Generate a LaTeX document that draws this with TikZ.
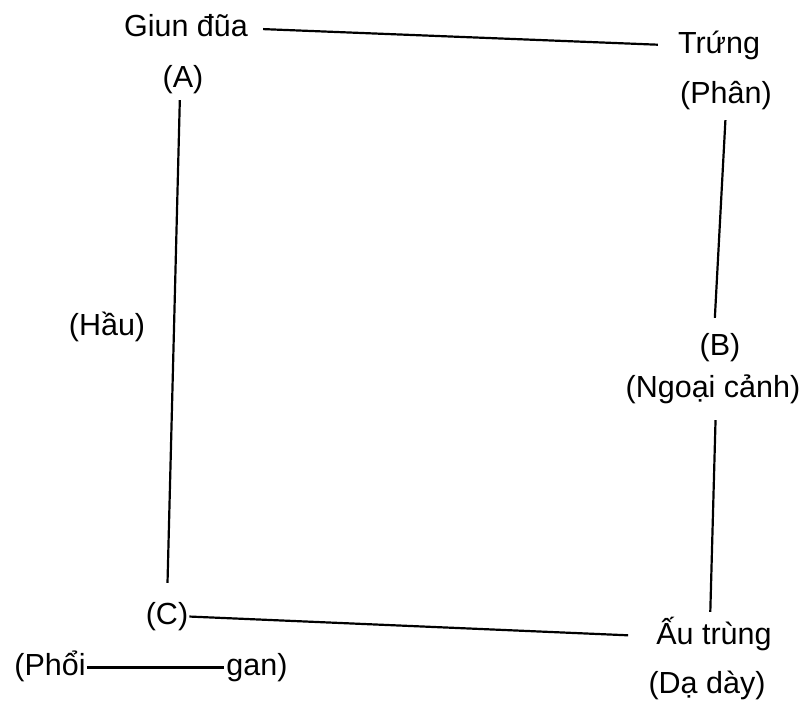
\documentclass[tikz,border=0pt]{standalone}
\usepackage{fontspec}
\setmainfont{Liberation Sans}
\usetikzlibrary{positioning}

\begin{document}
\begin{tikzpicture}[x=1pt,y=-1pt,
    nhan/.style={font=\fontsize{30.5}{36}\selectfont,inner sep=0pt,anchor=base,
      text height=21pt,text depth=6pt},
    noi/.style={line width=2.2pt}]
  \useasboundingbox (0,0) rectangle (807,704);
  % cac nhan
  \node[nhan] (giun) at (186,36) {Giun đũa};
  \node[nhan] (A) at (183,87) {(A)};
  \node[nhan] (trung) at (719,53) {Trứng};
  \node[nhan] (phan) at (726,103) {(Phân)};
  \node[nhan] (B) at (720,355) {(B)};
  \node[nhan] (ngoai) at (713,397) {(Ngoại cảnh)};
  \node[nhan] (hau) at (107,335) {(Hầu)};
  \node[nhan] (C) at (167,624) {(C)};
  \node[nhan] (autrung) at (714,644) {Ấu trùng};
  \node[nhan] (daday) at (707,693) {(Dạ dày)};
  \node[nhan] (phoi) at (50,675) {(Phổi};
  \node[nhan] (gan) at (257,675) {gan)};
  % cac duong noi
  \draw[noi,shorten <=15pt,shorten >=20pt] (giun.east) -- (trung.west);
  \draw[noi,shorten <=7pt,shorten >=20pt] ([xshift=-3pt]A.south) -- ([xshift=0pt]C.north);
  \draw[noi,shorten <=11pt,shorten >=16pt] (phan.south) -- ([xshift=-6pt]B.north);
  \draw[noi,shorten <=17pt,shorten >=11pt] ([xshift=3pt]ngoai.south) -- ([xshift=-4pt]autrung.north);
  \draw[noi,shorten <=1pt,shorten >=28pt] (C.east) -- (autrung.west);
  \draw[noi,shorten <=1pt,shorten >=2pt] (phoi.east) -- (gan.west);
\end{tikzpicture}
\end{document}
